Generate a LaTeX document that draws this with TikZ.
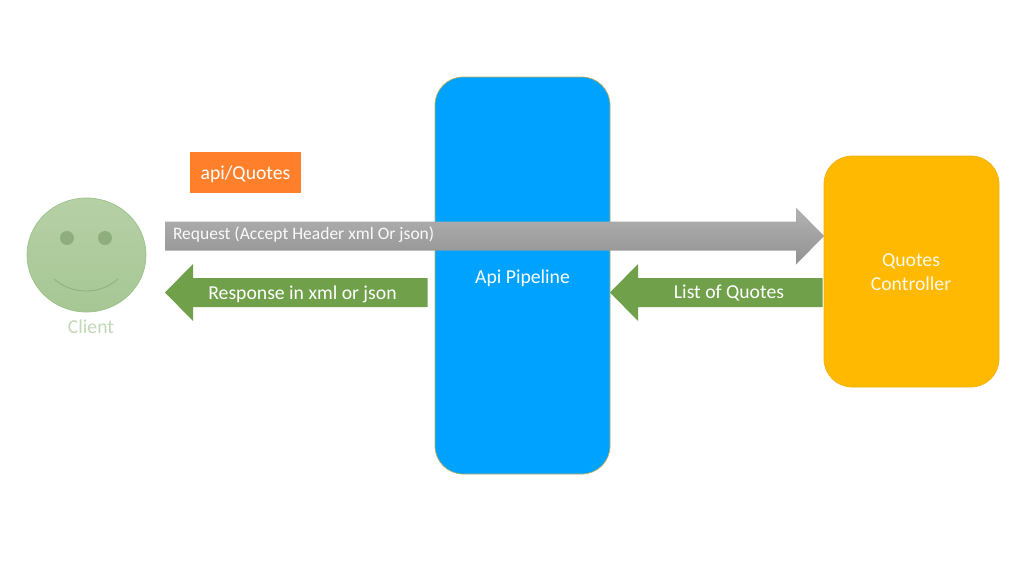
\documentclass[tikz,border=0pt]{standalone}
\usepackage{fontspec}
\setmainfont{Carlito}
\usetikzlibrary{calc,shadings,shapes.geometric}
\definecolor{pipeblue}{HTML}{00A2FF}
\definecolor{pipeedge}{HTML}{BDAF5A}
\definecolor{ctrlyellow}{HTML}{FFB900}
\definecolor{boxorange}{HTML}{FF7F2B}
\definecolor{arrowgreen}{HTML}{70A14A}
\definecolor{faceedge}{HTML}{9CC288}
\definecolor{facetop}{HTML}{B6D0A6}
\definecolor{facebot}{HTML}{A6C794}
\definecolor{facemark}{HTML}{8FAE7E}
\definecolor{clienttext}{HTML}{C3D8B7}
\tikzset{
  x=1pt,y=-1pt,
  every node/.style={inner sep=0pt,outer sep=0pt},
  tag/.style={fill=boxorange,text=white,font=\fontsize{19.7}{23}\selectfont},
  arrowlabel/.style={text=white,font=\fontsize{19.7}{23}\selectfont},
  smalllabel/.style={text=white!96!gray,font=\fontsize{17.5}{21}\selectfont},
  greenblock/.style={fill=arrowgreen},
  greyblock/.style={top color=black!30,bottom color=black!43}
}
% block arrow between two points at the same height: from, to, direction sign, style
\newcommand{\blockarrow}[4]{%
  \path[#4] let \p1=(#1),\p2=(#2) in
    (\x1,\y1+14.5pt) -- (\x2-#3*28pt,\y1+14.5pt) -- (\x2-#3*28pt,\y1+28.5pt) -- (\x2,\y1)
    -- (\x2-#3*28pt,\y1-28.5pt) -- (\x2-#3*28pt,\y1-14.5pt) -- (\x1,\y1-14.5pt) -- cycle;%
}
\begin{document}
\begin{tikzpicture}
\useasboundingbox (0,0) rectangle (1033,574);
\fill[white] (0,0) rectangle (1033,574);
% client
\node[ellipse,minimum width=119pt,minimum height=114pt,draw=faceedge,line width=0.7pt,top color=facetop,bottom color=facebot] (client) at (86.5,255) {};
\node[circle,minimum size=14pt,fill=facemark] (eyeL) at (67,238) {};
\node[circle,minimum size=14pt,fill=facemark] (eyeR) at (105,238) {};
\coordinate (smileL) at (54,279);
\coordinate (smileR) at (118,279);
\draw[facemark,line width=0.8pt] (smileL) .. controls (72,295) and (100,295) .. (smileR);
\node[text=clienttext,font=\fontsize{19.7}{23}\selectfont] (clientlabel) at (91,327) {Client};
% boxes
\node[tag,minimum width=111pt,minimum height=41pt] (route) at (245.5,172.5) {\raisebox{-6.5pt}[0pt][0pt]{api/Quotes}};
\path[fill=pipeblue,draw=pipeedge,line width=0.7pt,rounded corners=28pt] (435,77) rectangle (610,474);
\node[minimum width=175pt,minimum height=397pt] (pipe) at (522.5,275.5) {};
\node[text=white,font=\fontsize{19.7}{23}\selectfont] (pipelabel) at (522.5,278.5) {Api Pipeline};
\path[fill=ctrlyellow,draw=ctrlyellow!90!gray,line width=0.7pt,rounded corners=28pt] (824,156) rectangle (999,387);
\node[minimum width=175pt,minimum height=231pt] (ctrl) at (911.5,271.5) {};
\node[align=center,text=white!92!ctrlyellow,font=\fontsize{19.7}{24}\selectfont] (ctrllabel) at (911,272.5) {Quotes\\Controller};
% connectors
\coordinate (reqstart) at (165,236);
\coordinate (reqend) at (ctrl.west |- reqstart);
\blockarrow{reqstart}{reqend}{1}{greyblock}
\coordinate (liststart) at (822.5,292.5);
\coordinate (listend) at (pipe.east |- liststart);
\blockarrow{liststart}{listend}{-1}{greenblock}
\coordinate (respstart) at (427.5,292.5);
\coordinate (respend) at (165,292.5);
\blockarrow{respstart}{respend}{-1}{greenblock}
% connector labels
\node[smalllabel,anchor=west] (reqlabel) at (173,235) {Request (Accept Header xml Or json)};
\node[arrowlabel] (resplabel) at (302.5,294) {Response in xml or json};
\node[arrowlabel] (listlabel) at (729,293) {List of Quotes};
\end{tikzpicture}
\end{document}
